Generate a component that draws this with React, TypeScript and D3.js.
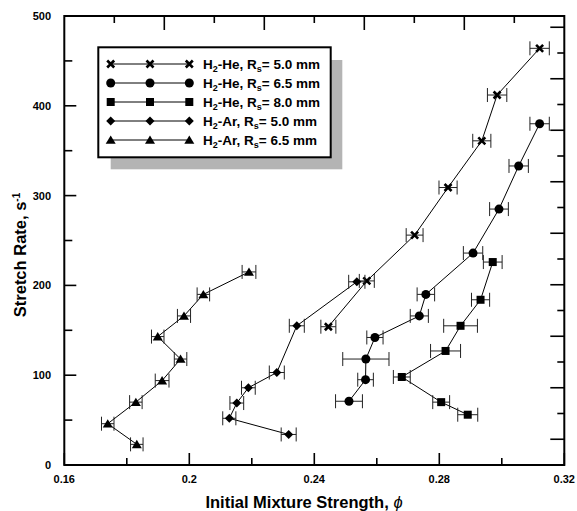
import React from "react";
import * as d3 from "d3";

const W = 577;
const H = 511;

// H2-He, Rs = 5.0 mm (cross)
const heR50Phi = [0.2445, 0.2568, 0.2721, 0.2828, 0.2936, 0.2985, 0.3121];
const heR50K = [154, 205, 256, 309, 361, 412, 464];
const heR50Err = [0.0024, 0.0024, 0.0027, 0.0029, 0.0029, 0.0031, 0.0031];

// H2-He, Rs = 6.5 mm (circle)
const heR65Phi = [0.3121, 0.3054, 0.2991, 0.2908, 0.2757, 0.2736, 0.2594, 0.2565, 0.2564, 0.2511];
const heR65K = [380, 333, 285, 236, 190, 166, 142, 118, 95, 71];
const heR65Err = [0.0031, 0.0031, 0.003, 0.0031, 0.0028, 0.0029, 0.0026, 0.0074, 0.0025, 0.0043];

// H2-He, Rs = 8.0 mm (square)
const heR80Phi = [0.2971, 0.2932, 0.2868, 0.282, 0.268, 0.2806, 0.2891];
const heR80K = [226, 184, 155, 127, 98, 70, 56];
const heR80Err = [0.003, 0.0029, 0.0054, 0.0048, 0.0027, 0.0027, 0.0032];

// H2-Ar, Rs = 5.0 mm (diamond)
const arR50Phi = [0.2536, 0.2344, 0.228, 0.2189, 0.2152, 0.2128, 0.2318];
const arR50K = [204, 155, 103, 86, 69, 52, 34];
const arR50Err = [0.0026, 0.0024, 0.0024, 0.0022, 0.0022, 0.0021, 0.0024];

// H2-Ar, Rs = 6.5 mm (triangle)
const arR65Phi = [0.2191, 0.2045, 0.1983, 0.1899, 0.1972, 0.1913, 0.1829, 0.1739, 0.1832];
const arR65K = [215, 190, 166, 143, 118, 94, 70, 46, 23];
const arR65Err = [0.0022, 0.002, 0.0021, 0.002, 0.002, 0.0022, 0.002, 0.002, 0.002];

const xTickLabels = ["0.16", "0.2", "0.24", "0.28", "0.32"];
const yTickLabels = ["0", "100", "200", "300", "400", "500"];

type Sym = "cross" | "circle" | "square" | "diamond" | "triangle";
const seriesNames = ["H2-He 5.0", "H2-He 6.5", "H2-He 8.0", "H2-Ar 5.0", "H2-Ar 6.5"];
const legendGas = ["He", "He", "He", "Ar", "Ar"];
const legendRs = ["5.0", "6.5", "8.0", "5.0", "6.5"];
const symbols: Sym[] = ["cross", "circle", "square", "diamond", "triangle"];
const seriesPhi = [heR50Phi, heR65Phi, heR80Phi, arR50Phi, arR65Phi];
const seriesK = [heR50K, heR65K, heR80K, arR50K, arR65K];
const seriesErr = [heR50Err, heR65Err, heR80Err, arR50Err, arR65Err];

const FONT = "'Liberation Sans', Arial, Helvetica, sans-serif";

const L = 64.3, R = 564.3, T = 16, B = 465;
const x = d3.scaleLinear().domain([0.16, 0.32]).range([L, R]);
const y = d3.scaleLinear().domain([0, 500]).range([B, T]);
const xTop = d3.scaleLinear().domain([0, 10]).range([L, R]);
const yRight = d3.scaleLinear().domain([0, 1]).range([B, B - 25.75]);

function Marker({ sym, cx, cy }: { sym: Sym; cx: number; cy: number }) {
  switch (sym) {
    case "cross":
      return (
        <path
          d={`M${cx - 3.5},${cy - 3.5}L${cx + 3.5},${cy + 3.5}M${cx - 3.5},${cy + 3.5}L${cx + 3.5},${cy - 3.5}`}
          stroke="#000"
          strokeWidth={2.6}
        />
      );
    case "circle":
      return <circle cx={cx} cy={cy} r={4.5} fill="#000" />;
    case "square":
      return <rect x={cx - 4} y={cy - 4} width={8} height={8} fill="#000" />;
    case "diamond":
      return <path d={`M${cx},${cy - 4.5}L${cx + 4.5},${cy}L${cx},${cy + 4.5}L${cx - 4.5},${cy}Z`} fill="#000" />;
    case "triangle":
      return <path d={`M${cx},${cy - 4.5}L${cx + 5},${cy + 3.8}L${cx - 5},${cy + 3.8}Z`} fill="#000" />;
  }
}

export default function App() {
  const line = d3
    .line<[number, number]>()
    .x((d) => x(d[0]))
    .y((d) => y(d[1]));

  const xMajor = [0.16, 0.2, 0.24, 0.28, 0.32];
  const xMinor = [0.18, 0.22, 0.26, 0.3];
  const yMajor = [0, 100, 200, 300, 400, 500];
  const yMinor = [50, 150, 250, 350, 450];
  const topTicks = d3.range(1, 10);
  const rightTicks = d3.range(1, 18);

  const legRows = [64, 83, 102, 121, 140];

  return (
    <svg
      width={W}
      height={H}
      style={{ position: "absolute", left: 0, top: 0, background: "#fff" }}
      fontFamily={FONT}
    >
      <rect x={0} y={0} width={W} height={H} fill="#fff" />

      {seriesNames.map((name, si) => {
        const pts: [number, number][] = seriesPhi[si].map((p, i) => [p, seriesK[si][i]]);
        return (
          <g key={name}>
            <path d={line(pts) || ""} fill="none" stroke="#000" strokeWidth={1} />
            {pts.map((p, i) => {
              const e = seriesErr[si][i];
              const x0 = x(p[0] - e), x1 = x(p[0] + e), yy = y(p[1]);
              return (
                <g key={i} stroke="#222" strokeWidth={1}>
                  <line x1={x0} x2={x1} y1={yy} y2={yy} />
                  <line x1={x0} x2={x0} y1={yy - 7} y2={yy + 7} />
                  <line x1={x1} x2={x1} y1={yy - 7} y2={yy + 7} />
                </g>
              );
            })}
            {pts.map((p, i) => (
              <Marker key={"m" + i} sym={symbols[si]} cx={x(p[0])} cy={y(p[1])} />
            ))}
          </g>
        );
      })}

      <rect x={L} y={T} width={R - L} height={B - T} fill="none" stroke="#000" strokeWidth={2} />

      {xMajor.map((v) => (
        <line key={"xM" + v} x1={x(v)} x2={x(v)} y1={B} y2={B - 12} stroke="#000" strokeWidth={1.6} />
      ))}
      {xMinor.map((v) => (
        <line key={"xm" + v} x1={x(v)} x2={x(v)} y1={B} y2={B - 7} stroke="#000" strokeWidth={1.6} />
      ))}
      {topTicks.map((v) => (
        <line
          key={"t" + v}
          x1={xTop(v)}
          x2={xTop(v)}
          y1={T}
          y2={T + (v % 2 === 0 ? 14 : 7)}
          stroke="#000"
          strokeWidth={1.6}
        />
      ))}
      {yMajor.map((v) => (
        <line key={"yM" + v} x1={L} x2={L + 12} y1={y(v)} y2={y(v)} stroke="#000" strokeWidth={1.6} />
      ))}
      {yMinor.map((v) => (
        <line key={"ym" + v} x1={L} x2={L + 8} y1={y(v)} y2={y(v)} stroke="#000" strokeWidth={1.6} />
      ))}
      {rightTicks.map((v) => (
        <line
          key={"r" + v}
          x1={R}
          x2={R - (v % 2 === 1 ? 14 : 7)}
          y1={yRight(v)}
          y2={yRight(v)}
          stroke="#000"
          strokeWidth={1.6}
        />
      ))}

      {xTickLabels.map((t) => (
        <text key={"xl" + t} x={x(+t)} y={483} textAnchor="middle" fontSize={11} fontWeight="bold">
          {t}
        </text>
      ))}
      {yTickLabels.map((t) => (
        <text key={"yl" + t} x={51} y={y(+t) + 4} textAnchor="end" fontSize={11} fontWeight="bold">
          {t}
        </text>
      ))}

      <text x={304} y={508} textAnchor="middle" fontSize={16.5} fontWeight="bold">
        Initial Mixture Strength, <tspan fontStyle="italic" fontWeight="normal">ϕ</tspan>
      </text>
      <text transform={`translate(26,${255}) rotate(-90)`} textAnchor="middle" fontSize={16.5} fontWeight="bold">
        Stretch Rate, s<tspan dy={-6} fontSize={10}>-1</tspan>
      </text>

      <rect x={110.7} y={60} width={231.6} height={109.3} fill="#b4b4b4" />
      <rect x={98.3} y={47.3} width={232.4} height={110} fill="#fff" stroke="#000" strokeWidth={2} />
      {seriesNames.map((name, i) => (
        <g key={"leg" + name}>
          <line x1={110.7} x2={189.3} y1={legRows[i]} y2={legRows[i]} stroke="#000" strokeWidth={1} />
          {[110.7, 150, 189.3].map((lx) => (
            <Marker key={lx} sym={symbols[i]} cx={lx} cy={legRows[i]} />
          ))}
          <text x={203} y={legRows[i] + 5} fontSize={13.5} fontWeight="bold">
            H<tspan dy={3} fontSize={9}>2</tspan>
            <tspan dy={-3}>-{legendGas[i]}, R</tspan>
            <tspan dy={3} fontSize={9}>s</tspan>
            <tspan dy={-3}>= {legendRs[i]} mm</tspan>
          </text>
        </g>
      ))}
    </svg>
  );
}
